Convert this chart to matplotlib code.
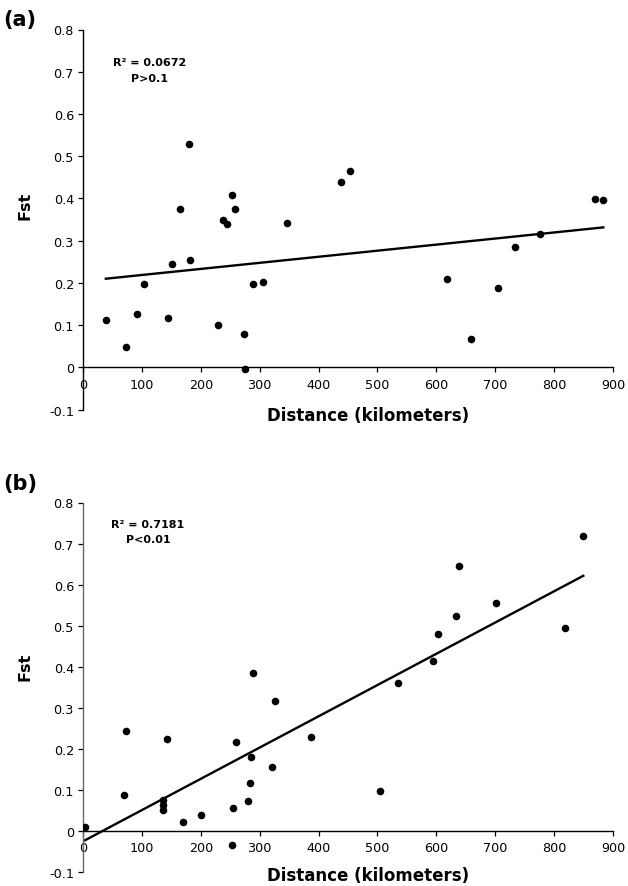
import matplotlib
matplotlib.use("Agg")
import matplotlib.pyplot as plt
import numpy as np

# ---- data ----
dist_a = [38.8, 73.5, 91.9, 104.2, 145.0, 151.8, 164.0, 179.7, 181.8, 229.4,
          237.6, 244.4, 252.6, 258.7, 273.7, 274.3, 288.6, 305.0, 346.5, 437.7,
          453.4, 618.8, 659.6, 704.6, 733.8, 776.7, 868.6, 883.6]
fst_a = [0.112, 0.049, 0.127, 0.197, 0.118, 0.245, 0.374, 0.529, 0.255, 0.101,
         0.349, 0.339, 0.408, 0.376, 0.079, -0.004, 0.197, 0.203, 0.341, 0.438,
         0.465, 0.209, 0.068, 0.188, 0.286, 0.316, 0.398, 0.397]
trend_a = [0.2045, 0.0001438]   # intercept, slope

dist_b = [3.4, 68.8, 73.5, 136.1, 136.1, 136.1, 142.3, 170.2, 200.1, 252.6,
          253.9, 259.4, 280.5, 283.9, 284.5, 289.3, 320.6, 325.4, 387.3, 505.1,
          535.7, 593.6, 602.5, 633.8, 639.2, 701.2, 818.9, 849.6]
fst_b = [0.010, 0.086, 0.244, 0.075, 0.062, 0.050, 0.224, 0.022, 0.039, -0.035,
         0.056, 0.215, 0.072, 0.116, 0.180, 0.384, 0.156, 0.315, 0.228, 0.097,
         0.359, 0.413, 0.479, 0.524, 0.644, 0.556, 0.495, 0.719]
trend_b = [-0.026, 0.000762]

x_ticks = [0, 100, 200, 300, 400, 500, 600, 700, 800, 900]
y_ticks = [-0.1, 0, 0.1, 0.2, 0.3, 0.4, 0.5, 0.6, 0.7, 0.8]
y_labels = ["-0.1", "0", "0.1", "0.2", "0.3", "0.4", "0.5", "0.6", "0.7", "0.8"]

panel_labels = ["(a)", "(b)"]
stats = [("R\u00b2 = 0.0672", "P>0.1"), ("R\u00b2 = 0.7181", "P<0.01")]

W, H = 628, 887
fig = plt.figure(figsize=(W / 100, H / 100), dpi=100)
plt.rcParams['font.family'] = ['DejaVu Sans']

def px_axes(left, top, right, bottom):
    return fig.add_axes([left / W, 1 - bottom / H, (right - left) / W, (bottom - top) / H])

axes = [px_axes(83, 30.5, 613, 410.7), px_axes(83, 503.5, 613, 872.7)]
datasets = [(dist_a, fst_a, trend_a), (dist_b, fst_b, trend_b)]
fst_label_y = [0.54, 0.557]
xlabel_y = [-0.014, -0.009]
panel_pos = [(3, 20), (3, 484)]
stat_pos = [((150, 63), (150, 79)), ((148, 525), (148, 540))]
left_spine_col = ['black', '#666666']

for i, ax in enumerate(axes):
    x, y, tr = datasets[i]
    ax.scatter(x, y, s=30, color='black', zorder=3, linewidths=0)
    xs = np.array([min(x), max(x)])
    ax.plot(xs, tr[0] + tr[1] * xs, color='black', lw=1.7, zorder=2)
    ax.set_xlim(0, 900)
    ax.set_ylim(-0.1, 0.8)
    ax.set_xticks(x_ticks)
    ax.set_yticks(y_ticks)
    ax.set_yticklabels(y_labels)
    ax.spines['top'].set_visible(False)
    ax.spines['right'].set_visible(False)
    ax.spines['bottom'].set_position(('data', 0))
    ax.spines['bottom'].set_linewidth(1.0)
    ax.spines['left'].set_linewidth(1.0)
    ax.spines['left'].set_color(left_spine_col[i])
    ax.tick_params(axis='both', direction='out', length=3.5, width=0.9,
                   labelsize=9.2)
    ax.tick_params(axis='x', pad=4)
    ax.tick_params(axis='y', pad=3)
    ax.set_facecolor('none')
    ax.set_ylabel("Fst", fontsize=11.5, fontweight='bold')
    ax.yaxis.set_label_coords(-0.096, fst_label_y[i])
    ax.set_xlabel("Distance (kilometers)", fontsize=12, fontweight='bold')
    ax.xaxis.set_label_coords(0.538, xlabel_y[i])
    ax.xaxis.label.set_va('center')
    fig.text(panel_pos[i][0] / W, 1 - panel_pos[i][1] / H, panel_labels[i],
             fontsize=15, fontweight='bold', va='center', ha='left')
    (sx1, sy1), (sx2, sy2) = stat_pos[i]
    fig.text(sx1 / W, 1 - sy1 / H, stats[i][0], fontsize=8, fontweight='bold',
             ha='center', va='center')
    fig.text(sx2 / W, 1 - sy2 / H, stats[i][1], fontsize=8, fontweight='bold',
             ha='center', va='center')

fig.savefig("out.png", dpi=100)
